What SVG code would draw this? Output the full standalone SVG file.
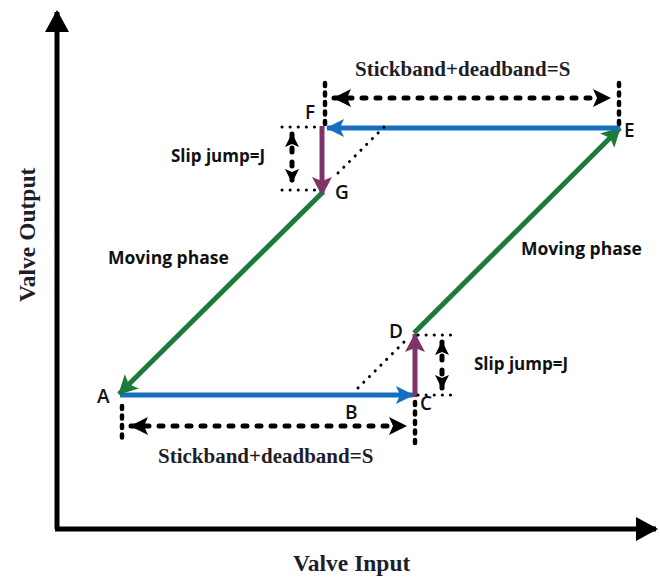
<svg xmlns="http://www.w3.org/2000/svg" width="660" height="577" viewBox="0 0 660 577">
<style>
.ser{font-family:"Liberation Serif","Times New Roman",serif;font-weight:bold;fill:#1e1e2a}
.san{font-family:"Open Sans",Lato,sans-serif;font-weight:bold;fill:#111}
.lbl{font-family:"Open Sans",Lato,sans-serif;font-size:19px;font-weight:600;fill:#111}
.dim{stroke:#000;stroke-width:5;stroke-dasharray:4 10;stroke-linecap:round;fill:none}
.end{stroke:#000;stroke-width:4.5;stroke-dasharray:3 6.5;stroke-linecap:round;fill:none}
.dot{stroke:#000;stroke-width:3;stroke-dasharray:0.1 8;stroke-linecap:round;fill:none}
</style>
<defs>
<marker id="ab" markerUnits="userSpaceOnUse" markerWidth="20" markerHeight="20" refX="17" refY="9" orient="auto"><path d="M0,0 L18,9 L0,18 L4,9 Z" fill="#1470be"/></marker>
<marker id="ag" markerUnits="userSpaceOnUse" markerWidth="22" markerHeight="22" refX="18" refY="10" orient="auto"><path d="M0,0 L19,10 L0,20 L4,10 Z" fill="#1c7a3a"/></marker>
<marker id="ap" markerUnits="userSpaceOnUse" markerWidth="22" markerHeight="22" refX="18" refY="10" orient="auto"><path d="M0,0 L19,10 L0,20 L4,10 Z" fill="#7f3468"/></marker>
<marker id="ak" markerUnits="userSpaceOnUse" markerWidth="20" markerHeight="20" refX="17" refY="9" orient="auto-start-reverse"><path d="M0,0 L18,9 L0,18 L4,9 Z" fill="#000"/></marker>
<marker id="aks" markerUnits="userSpaceOnUse" markerWidth="16" markerHeight="16" refX="13" refY="7" orient="auto-start-reverse"><path d="M0,0 L14,7 L0,14 L3,7 Z" fill="#000"/></marker>
<marker id="axh" markerUnits="userSpaceOnUse" markerWidth="24" markerHeight="26" refX="20" refY="12" orient="auto"><path d="M0,0 L22,12 L0,24 Z" fill="#000"/></marker>
</defs>

<g id="axes">
<line x1="57" y1="529" x2="57" y2="12" stroke="#000" stroke-width="5" marker-end="url(#axh)"/>
<line x1="55" y1="529" x2="656" y2="529" stroke="#000" stroke-width="5" marker-end="url(#axh)"/>
<text class="ser" font-size="23.5" x="293" y="571">Valve Input</text>
<text class="ser" font-size="23.5" transform="translate(35,302) rotate(-90)">Valve Output</text>
</g>

<g id="connectors">
<line x1="120" y1="395" x2="413" y2="395" stroke="#1470be" stroke-width="5" marker-end="url(#ab)"/>
<line x1="415" y1="397" x2="415" y2="334" stroke="#7f3468" stroke-width="5" marker-end="url(#ap)"/>
<line x1="414" y1="333" x2="620" y2="128" stroke="#1c7a3a" stroke-width="5" marker-end="url(#ag)"/>
<line x1="620" y1="128" x2="327" y2="128" stroke="#1470be" stroke-width="5" marker-end="url(#ab)"/>
<line x1="322" y1="126" x2="322" y2="195" stroke="#7f3468" stroke-width="5" marker-end="url(#ap)"/>
<line x1="322" y1="193" x2="119" y2="394" stroke="#1c7a3a" stroke-width="5" marker-end="url(#ag)"/>
<line class="dot" x1="358" y1="388" x2="406" y2="340"/>
<line class="dot" x1="338" y1="173" x2="389" y2="122"/>
</g>

<g id="dim-top">
<line class="end" x1="325" y1="83" x2="325" y2="126"/>
<line class="end" x1="619" y1="83" x2="619" y2="126"/>
<line class="dim" x1="334" y1="98" x2="610" y2="98" marker-start="url(#ak)" marker-end="url(#ak)"/>
<text class="ser" font-size="21" x="355" y="76">Stickband+deadband=S</text>
</g>

<g id="dim-bottom">
<line class="end" x1="122" y1="406" x2="122" y2="443"/>
<line class="end" x1="415" y1="402" x2="415" y2="443"/>
<line class="dim" x1="131" y1="426" x2="406" y2="426" marker-start="url(#ak)" marker-end="url(#ak)"/>
<text class="ser" font-size="21" x="158" y="463">Stickband+deadband=S</text>
</g>

<g id="slip-upper">
<line class="dot" x1="282" y1="127" x2="322" y2="127"/>
<line class="dot" x1="282" y1="190" x2="320" y2="190"/>
<line class="dim" x1="292" y1="134" x2="292" y2="182" stroke-dasharray="4 8" marker-start="url(#aks)" marker-end="url(#aks)"/>
<text class="san" font-size="17" x="171" y="162">Slip jump=J</text>
</g>

<g id="slip-lower">
<line class="dot" x1="418" y1="335" x2="454" y2="335"/>
<line class="dot" x1="418" y1="395" x2="458" y2="395"/>
<line class="dim" x1="442" y1="342" x2="442" y2="388" stroke-dasharray="4 8" marker-start="url(#aks)" marker-end="url(#aks)"/>
<text class="san" font-size="17" x="474" y="370">Slip jump=J</text>
</g>

<g id="moving">
<text class="san" font-size="17.5" x="108" y="264">Moving phase</text>
<text class="san" font-size="17.5" x="521" y="255">Moving phase</text>
</g>

<g id="labels">
<text class="lbl" x="97" y="403">A</text>
<text class="lbl" x="345" y="419">B</text>
<text class="lbl" x="420" y="410">C</text>
<text class="lbl" x="389" y="338">D</text>
<text class="lbl" x="624" y="137">E</text>
<text class="lbl" x="305" y="119">F</text>
<text class="lbl" x="335" y="199">G</text>
</g>
</svg>
